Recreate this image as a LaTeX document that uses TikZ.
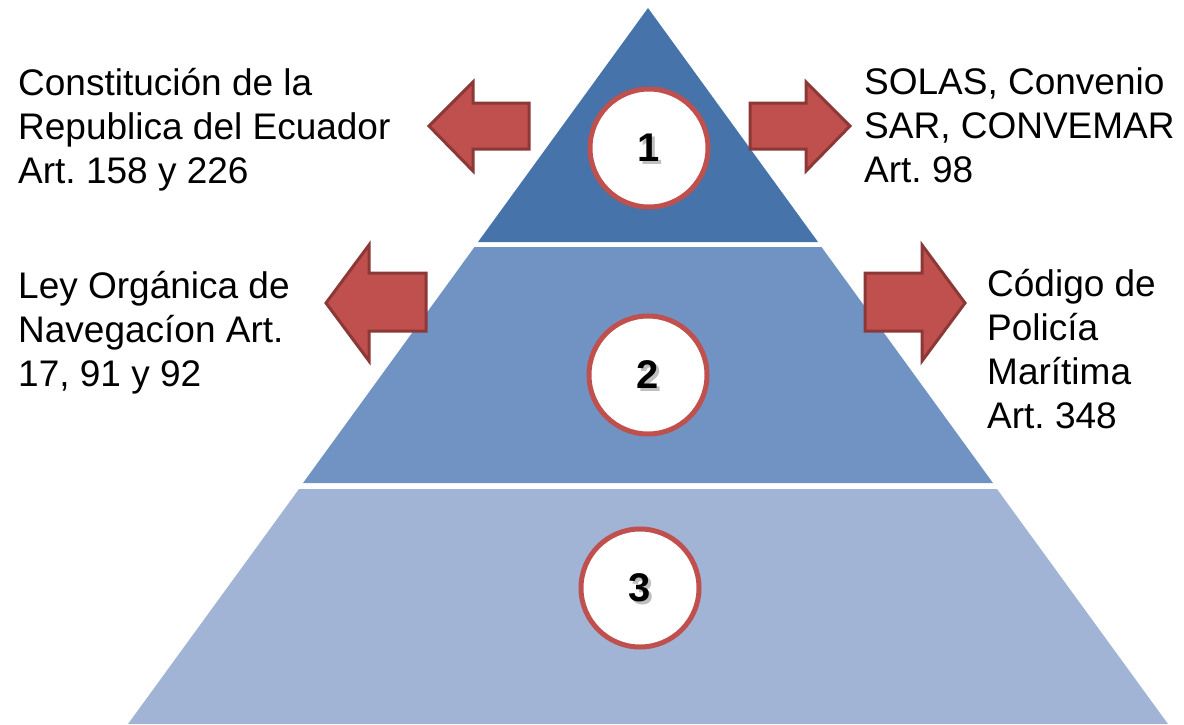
\documentclass[tikz,border=0pt]{standalone}
\usepackage{fontspec}
\setmainfont{Liberation Sans}
\usepackage{xcolor}
\frenchspacing
\definecolor{tierA}{HTML}{4673AA}
\definecolor{tierB}{HTML}{7193C3}
\definecolor{tierC}{HTML}{A1B4D6}
\definecolor{arrowred}{HTML}{C0504D}
\definecolor{arrowedge}{HTML}{8C3836}
\tikzset{
    tier/.style={draw=none},
    redarrow/.style={fill=arrowred, draw=arrowedge, line width=3pt, line join=miter},
    numcircle/.style={draw=arrowred, circle, line width=5pt, fill=white, minimum size=118pt, inner sep=0pt},
    numtext/.style={font=\fontsize{40}{40}\selectfont\bfseries},
    label/.style={anchor=base west, align=left, inner sep=0pt, font=\fontsize{37}{43.8}\selectfont}
}

\begin{document}
\begin{tikzpicture}[x=1pt, y=-1pt]
    \useasboundingbox (0,0) rectangle (1184,724);

    % pyramid tiers
    \fill[tierA] (648,8) -- (818,242) -- (478,242) -- cycle;
    \fill[tierB] (474.5,247) -- (821.5,247) -- (993,483) -- (303,483) -- cycle;
    \fill[tierC] (299,489) -- (997,489) -- (1168,724) -- (128,724) -- cycle;

    % block arrows
    \draw[redarrow] (529,103) -- (473,103) -- (473,82) -- (429,126) -- (473,171) -- (473,149) -- (529,149) -- cycle;
    \draw[redarrow] (750,103) -- (806,103) -- (806,82) -- (850,126) -- (806,171) -- (806,149) -- (750,149) -- cycle;
    \draw[redarrow] (426,273) -- (369,273) -- (369,245) -- (326,303) -- (369,361) -- (369,331) -- (426,331) -- cycle;
    \draw[redarrow] (865,273) -- (922,273) -- (922,245) -- (965,303) -- (922,361) -- (922,331) -- (865,331) -- cycle;

    % numbered circles
    \node[numcircle] (c1) at (649,148) {};
    \node[numcircle] (c2) at (648,375) {};
    \node[numcircle] (c3) at (640,588) {};
    \foreach \n/\c in {1/c1, 2/c2, 3/c3} {
        \node[numtext, text=black!25] at ([xshift=3pt, yshift=-3pt]\c.center) {\n};
        \node[numtext] (n\n) at (\c.center) {\n};
    }

    % texts (anchored at the baseline of the last line)
    \node[label] (constitucion) at (18,183) {Constitución de la\\Republica del Ecuador\\Art. 158 y 226};
    \node[label] (solas) at (864,182) {SOLAS, Convenio\\SAR, CONVEMAR\\Art. 98};
    \node[label] (ley) at (18,386) {Ley Orgánica de\\Navegacíon Art.\\17, 91 y 92};
    \node[label] (codigo) at (987,428) {Código de\\Policía\\Marítima\\Art. 348};
\end{tikzpicture}
\end{document}
